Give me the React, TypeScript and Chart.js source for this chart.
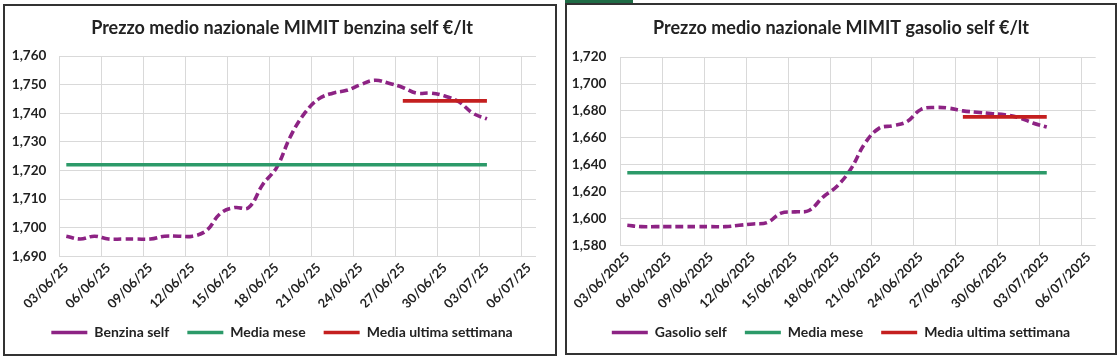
import React, { useEffect, useRef } from 'react';
import { Chart, registerables } from 'chart.js';

Chart.register(...registerables);
Chart.defaults.font.family = 'Lato';

// ---- categories (daily) ----
const datesShort = [
  '03/06/25', '04/06/25', '05/06/25', '06/06/25', '07/06/25', '08/06/25', '09/06/25', '10/06/25',
  '11/06/25', '12/06/25', '13/06/25', '14/06/25', '15/06/25', '16/06/25', '17/06/25', '18/06/25',
  '19/06/25', '20/06/25', '21/06/25', '22/06/25', '23/06/25', '24/06/25', '25/06/25', '26/06/25',
  '27/06/25', '28/06/25', '29/06/25', '30/06/25', '01/07/25', '02/07/25', '03/07/25', '04/07/25',
  '05/07/25', '06/07/25',
];
const datesLong = [
  '03/06/2025', '04/06/2025', '05/06/2025', '06/06/2025', '07/06/2025', '08/06/2025', '09/06/2025',
  '10/06/2025', '11/06/2025', '12/06/2025', '13/06/2025', '14/06/2025', '15/06/2025', '16/06/2025',
  '17/06/2025', '18/06/2025', '19/06/2025', '20/06/2025', '21/06/2025', '22/06/2025', '23/06/2025',
  '24/06/2025', '25/06/2025', '26/06/2025', '27/06/2025', '28/06/2025', '29/06/2025', '30/06/2025',
  '01/07/2025', '02/07/2025', '03/07/2025', '04/07/2025', '05/07/2025', '06/07/2025',
];

// ---- series values ----
const benzinaSelf = [
  1.697, 1.696, 1.697, 1.696, 1.696, 1.696, 1.696, 1.697, 1.697, 1.697,
  1.699, 1.705, 1.707, 1.707, 1.715, 1.721, 1.732, 1.740, 1.745, 1.747,
  1.748, 1.750, 1.7515, 1.7505, 1.749, 1.747, 1.747, 1.746, 1.744, 1.740,
  1.738,
];
const gasolioSelf = [
  1.595, 1.594, 1.594, 1.594, 1.594, 1.594, 1.594, 1.594, 1.595, 1.596,
  1.597, 1.604, 1.605, 1.606, 1.616, 1.624, 1.637, 1.656, 1.667, 1.669,
  1.672, 1.681, 1.6825, 1.682, 1.680, 1.679, 1.678, 1.677, 1.675, 1.671,
  1.668,
];
const benzinaMediaMese = 1.722;
const benzinaMediaSettimana = 1.7443;
const gasolioMediaMese = 1.634;
const gasolioMediaSettimana = 1.6755;

// ranges (first/last category) of the average lines
const benzinaMeseRange = ['03/06/25', '03/07/25'];
const benzinaSettimanaRange = ['27/06/25', '03/07/25'];
const gasolioMeseRange = ['03/06/2025', '03/07/2025'];
const gasolioSettimanaRange = ['27/06/2025', '03/07/2025'];

// ---- y axes: min, max, step ----
const benzinaYAxis = [1.69, 1.76, 0.01];
const gasolioYAxis = [1.58, 1.72, 0.02];

const legendNames = ['Media mese', 'Media ultima settimana'];

const PURPLE = '#8d2384';
const GREEN = '#2c9a69';
const RED = '#c41f1f';
const GRID = '#d9d9d9';
const TEXT = '#222222';

type Props = {
  left: number; top: number; width: number; height: number;
  title: string; seriesName: string; labels: string[]; values: number[];
  mese: number; meseRange: string[]; sett: number; settRange: string[];
  yAxis: number[];
  padLeft: number; yWidth: number; yPad: number; rightW: number;
  xHeight: number; padBottom: number; titleTop: number; titleBottom: number;
};

function PriceChart(p: Props) {
  const ref = useRef<HTMLCanvasElement>(null);
  const cw = p.width - 4;
  const ch = p.height - 4;
  useEffect(() => {
    const chart = new Chart(ref.current as HTMLCanvasElement, {
      type: 'line',
      data: {
        labels: p.labels,
        datasets: [
          {
            label: p.seriesName,
            data: p.values,
            borderColor: PURPLE,
            backgroundColor: PURPLE,
            borderWidth: 3.6,
            borderDash: [8, 4],
            tension: 0.4,
            pointRadius: 0,
            fill: false,
            order: 2,
          },
          {
            label: legendNames[0],
            data: [{ x: p.meseRange[0], y: p.mese }, { x: p.meseRange[1], y: p.mese }],
            borderColor: GREEN,
            backgroundColor: GREEN,
            borderWidth: 3.6,
            pointRadius: 0,
            fill: false,
            order: 1,
          },
          {
            label: legendNames[1],
            data: [{ x: p.settRange[0], y: p.sett }, { x: p.settRange[1], y: p.sett }],
            borderColor: RED,
            backgroundColor: RED,
            borderWidth: 3.6,
            pointRadius: 0,
            fill: false,
            order: 0,
          },
        ] as any,
      },
      options: {
        animation: false,
        responsive: false,
        maintainAspectRatio: false,
        layout: { padding: { left: p.padLeft, right: 0, top: 0, bottom: p.padBottom } },
        plugins: {
          title: {
            display: true,
            text: p.title,
            color: TEXT,
            font: { size: 18, weight: 'bold' },
            padding: { top: p.titleTop, bottom: p.titleBottom },
          },
          legend: {
            position: 'bottom',
            labels: {
              usePointStyle: true,
              pointStyle: 'line',
              pointStyleWidth: 36,
              padding: 18,
              color: TEXT,
              font: { size: 14, weight: 'bold' },
              sort: (a: any, b: any) => a.datasetIndex - b.datasetIndex,
            },
          },
          tooltip: { enabled: false },
        },
        scales: {
          x: {
            type: 'category',
            offset: true,
            grid: {
              offset: true,
              drawTicks: false,
              color: (ctx: any) =>
                ctx.index !== undefined && ctx.index % 3 === 0 ? GRID : 'rgba(0,0,0,0)',
            },
            border: { display: false },
            ticks: {
              autoSkip: false,
              minRotation: 45,
              maxRotation: 45,
              padding: 4,
              color: TEXT,
              font: { size: 13, weight: 'bold' },
              callback: function (this: any, value: any, index: number) {
                return index % 3 === 0 ? this.getLabelForValue(value) : '';
              },
            },
            afterFit: (s: any) => { s.height = p.xHeight; },
          },
          y: {
            type: 'linear',
            min: p.yAxis[0],
            max: p.yAxis[1],
            grid: { color: GRID, drawTicks: false },
            border: { display: false },
            ticks: {
              stepSize: p.yAxis[2],
              padding: p.yPad,
              color: TEXT,
              font: { size: 13.5, weight: 'bold' },
              callback: (v: any) => Number(v).toFixed(3).replace('.', ','),
            },
            afterFit: (s: any) => { s.width = p.yWidth; },
          },
          yRight: {
            type: 'linear',
            position: 'right',
            display: true,
            grid: { display: false },
            border: { display: false },
            ticks: { display: false },
            afterFit: (s: any) => { s.width = p.rightW; },
          },
        },
      } as any,
    });
    return () => chart.destroy();
  }, []);
  return (
    <div
      style={{
        position: 'absolute',
        left: p.left,
        top: p.top,
        width: p.width,
        height: p.height,
        border: '2px solid #333',
        boxSizing: 'border-box',
        background: '#fff',
      }}
    >
      <canvas ref={ref} width={cw} height={ch} style={{ display: 'block', width: cw, height: ch }} />
    </div>
  );
}

export default function App() {
  return (
    <div style={{ position: 'absolute', left: 0, top: 0, width: 1119, height: 359, background: '#fff' }}>
      <PriceChart
        left={3} top={4} width={554} height={352}
        title="Prezzo medio nazionale MIMIT benzina self €/lt"
        seriesName="Benzina self"
        labels={datesShort}
        values={benzinaSelf}
        mese={benzinaMediaMese} meseRange={benzinaMeseRange}
        sett={benzinaMediaSettimana} settRange={benzinaSettimanaRange}
        yAxis={benzinaYAxis}
        padLeft={4} yWidth={50.3} yPad={13} rightW={19}
        xHeight={51.3} padBottom={4.5} titleTop={11} titleBottom={17.4}
      />
      <div style={{ position: 'absolute', left: 565, top: 0, width: 68, height: 3, background: '#1f6b45' }} />
      <PriceChart
        left={565} top={3} width={552} height={352}
        title="Prezzo medio nazionale MIMIT gasolio self €/lt"
        seriesName="Gasolio self"
        labels={datesLong}
        values={gasolioSelf}
        mese={gasolioMediaMese} meseRange={gasolioMeseRange}
        sett={gasolioMediaSettimana} settRange={gasolioSettimanaRange}
        yAxis={gasolioYAxis}
        padLeft={0} yWidth={53.3} yPad={14} rightW={19.3}
        xHeight={62} padBottom={3.5} titleTop={12} titleBottom={18.4}
      />
    </div>
  );
}
